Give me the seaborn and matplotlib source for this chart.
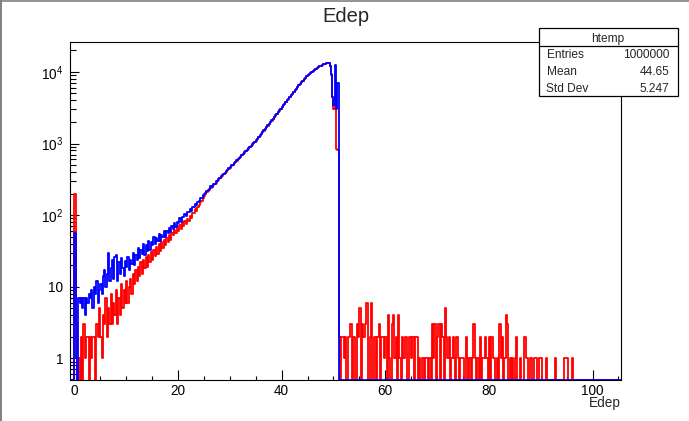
import numpy as np
import pandas as pd
import matplotlib
matplotlib.use("Agg")
import matplotlib.pyplot as plt
import seaborn as sns
from matplotlib.ticker import FixedLocator, FuncFormatter, MultipleLocator, NullFormatter
from matplotlib.patches import Rectangle
from matplotlib.lines import Line2D

# ---------------- data (counts per 0.25-wide Edep bin) ----------------
bin_width = 0.25
data_start = 0.0

blue_rise = [  # Edep 0 - 25
    56, 1, 0, 7,  6, 7, 5, 7,  4, 7, 6, 8,  7, 9, 5, 10,  8, 12, 6, 9,
    11, 8, 14, 17,  10, 15, 30, 12,  18, 24, 13, 26,  28, 12, 22, 15,  25, 18, 14, 23,
    19, 26, 17, 24,  21, 30, 20, 28,  24, 35, 25, 33,  29, 40, 28, 38,  32, 44, 33, 42,
    38, 50, 39, 48,  43, 55, 44, 53,  49, 61, 50, 60,  56, 67, 58, 70,  64, 77, 68, 80,
    78, 90, 80, 94,  93, 104, 96, 110,  110, 122, 113, 128,  132, 144, 137, 152,  160, 172, 176, 189,
]
blue_peak = [  # Edep 25 - 51
    198, 207, 216, 225,  235, 252, 250, 272,  276, 298, 300, 322,  328, 352, 358, 380,
    390, 418, 424, 452,  463, 494, 505, 538,  550, 586, 600, 638,  654, 695, 714, 756,
    784, 818, 854, 892,  931, 972, 1015, 1059,  1106, 1167, 1231, 1299,  1370, 1446, 1525, 1609,
    1698, 1791, 1890, 1994,  2103, 2219, 2341, 2470,  2606, 2749, 2900, 3060,
    3228, 3406, 3593, 3791,  3999, 4219, 4451, 4696,  4954, 5227, 5514, 5817,
    6137, 6475, 6800, 7130,  7500, 7900, 8300, 8700,  9050, 9400, 9750, 10100,
    10400, 10750, 11050, 11350,  11650, 11950, 12250, 12550,  12800, 13050, 13300, 13450,
    13300, 12300, 9000, 4500,  3500, 12500, 3000, 7000,
]
red_rise = [  # Edep 0 - 25
    200, 3, 0, 1,  0, 2, 0, 3,  1, 2, 2, 0,  2, 1, 2, 2,  0, 3, 2, 5,
    2, 1, 4, 3,  7, 2, 5, 3,  8, 3, 6, 4,  9, 3, 7, 4,  11, 5, 9, 6,
    12, 6, 10, 13,  8, 15, 11, 17,  12, 19, 14, 22,  15, 24, 18, 26,  19, 28, 22, 31,
    24, 33, 27, 36,  29, 39, 32, 42,  35, 45, 38, 48,  42, 52, 45, 57,  52, 62, 56, 67,
    60, 72, 64, 77,  70, 83, 75, 89,  84, 98, 91, 108,  108, 120, 116, 132,  140, 154, 160, 174,
]
red_peak = [  # Edep 25 - 51
    185, 200, 210, 218,  226, 236, 252, 260,  270, 282, 302, 310,  326, 340, 356, 372,
    388, 405, 424, 442,  462, 482, 505, 527,  550, 575, 600, 627,  655, 684, 714, 746,
    779, 813, 849, 887,  926, 967, 1010, 1054,  1100, 1160, 1224, 1292,  1363, 1439, 1518, 1602,
    1690, 1784, 1883, 1987,  2096, 2212, 2334, 2463,  2599, 2742, 2893, 3053,
    3221, 3399, 3586, 3784,  3992, 4212, 4444, 4689,  4947, 5220, 5507, 5810,
    6130, 6468, 6793, 7123,  7493, 7893, 8293, 8693,  9043, 9393, 9743, 10093,
    10393, 10743, 11043, 11343,  11643, 11943, 12243, 12543,  12793, 13043, 13293, 13443,
    13290, 12290, 9400, 4500,  3000, 4500, 850, 800,
]
red_tail = [  # Edep 51 - 97
    2, 0, 2, 2,  1, 2, 0, 2,  2, 3, 0, 2,  2, 0, 3, 2,  5, 0, 3, 2,
    3, 6, 6, 0,  2, 6, 0, 2,  2, 0, 2, 3,  0, 2, 2, 1,  2, 0, 4, 1,
    0, 3, 4, 1,  2, 0, 4, 1,  0, 2, 1, 2,  2, 0, 2, 2,  1, 2, 0, 2,
    2, 0, 1, 0,  1, 1, 0, 1,  1, 0, 1, 0,  3, 1, 3, 0,  2, 3, 0, 3,
    2, 0, 5, 2,  1, 2, 0, 1,  2, 1, 0, 2,  1, 0, 1, 1,  1, 0, 2, 1,
    0, 1, 0, 1,  3, 1, 0, 1,  0, 2, 0, 1,  1, 2, 1, 0,  2, 0, 2, 1,
    1, 0, 1, 0,  3, 1, 2, 0,  1, 4, 3, 0,  1, 0, 1, 0,  1, 2, 0, 0,
    1, 0, 0, 2,  2, 1, 0, 0,  1, 0, 0, 1,  1, 0, 0, 1,  1, 0, 0, 0,
    1, 0, 0, 0,  0, 0, 0, 1,  0, 0, 0, 0,  0, 0, 1, 1,  1, 0, 0, 0,
    1, 0, 0, 0,
]

title_text = "Edep"
x_label = "Edep"
stats_title = "htemp"
stats_labels = ["Entries", "Mean", "Std Dev"]
stats_values = ["1000000", "44.65", "5.247"]
x_major_ticks = [0, 20, 40, 60, 80, 100]
y_major_ticks = [1, 10, 100, 1000, 10000]

# ---------------- layout / style ----------------
W, H, DPI = 689, 421, 100
x_range = (-0.93, 105.5)
y_range = (0.506, 26200)
first_edge = -0.75

sns.set_theme(style="white")
plt.rcParams["font.family"] = ["Liberation Sans", "DejaVu Sans"]
plt.rcParams["mathtext.fontset"] = "custom"
plt.rcParams["mathtext.rm"] = "Liberation Sans"
plt.rcParams["mathtext.it"] = "Liberation Sans:italic"
plt.rcParams["mathtext.bf"] = "Liberation Sans:bold"

fig = plt.figure(figsize=(W / DPI, H / DPI), dpi=DPI)
fig.patch.set_facecolor("white")
ax = fig.add_axes([69.5 / W, 1 - 379.5 / H, (621 - 69.5) / W, (379.5 - 42) / H])

edges = np.arange(first_edge, x_range[1] + 1e-9, bin_width)
centers = edges[:-1] + bin_width / 2
offset = int(round((data_start - first_edge) / bin_width))


def full_series(counts):
    arr = np.zeros(len(centers))
    arr[offset:offset + len(counts)] = counts
    return arr


red_full = full_series(red_rise + red_peak + red_tail)
blue_full = full_series(blue_rise + blue_peak)

# ROOT draws empty bins on the frame floor
floor = y_range[0]
df = pd.DataFrame({
    "Edep": np.concatenate([centers, centers]),
    "count": np.concatenate([np.maximum(red_full, floor), np.maximum(blue_full, floor)]),
    "series": ["red"] * len(centers) + ["blue"] * len(centers),
})

edge_list = [float(e) for e in edges]
for name, color, z in [("red", "#ff0000", 3.0), ("blue", "#0000ff", 3.1)]:
    sub = df[df["series"] == name]
    sns.histplot(data=sub, x="Edep", weights="count", bins=edge_list, element="step",
                 fill=False, color=color, linewidth=1.3, ax=ax, zorder=z)

ax.set_yscale("log")
ax.set_xlim(*x_range)
ax.set_ylim(*y_range)
ax.set_xlabel("")
ax.set_ylabel("")

# ticks
ax.xaxis.set_major_locator(FixedLocator(x_major_ticks))
ax.xaxis.set_minor_locator(MultipleLocator(5))
ax.yaxis.set_major_locator(FixedLocator(y_major_ticks))
minor_y = [m * 10 ** d for d in range(-1, 5) for m in range(2, 10)]
ax.yaxis.set_minor_locator(FixedLocator(minor_y))
ax.yaxis.set_minor_formatter(NullFormatter())


def ylab(v, pos):
    e = int(round(np.log10(v)))
    if e <= 1:
        return str(int(round(v)))
    return r"$10^{%d}$" % e


ax.yaxis.set_major_formatter(FuncFormatter(ylab))
ax.tick_params(axis="both", which="both", direction="in", bottom=True, left=True,
               top=False, right=False, colors="black", labelsize=9.8, width=0.8)
ax.tick_params(axis="x", which="major", length=7.2, pad=3)
ax.tick_params(axis="x", which="minor", length=3.1)
ax.tick_params(axis="y", which="major", length=6.5, pad=4.5)
ax.tick_params(axis="y", which="minor", length=4.5)
for sp in ax.spines.values():
    sp.set_color("black")
    sp.set_linewidth(0.8)
    sp.set_visible(True)
ax.grid(False)


def fx(px):
    return px / W


def fy(py):
    return 1 - py / H


# title and axis label
fig.text(fx(346), fy(21.5), title_text, ha="center", va="baseline", fontsize=14.5)
fig.text(fx(620.5), fy(407.5), x_label, ha="right", va="baseline", fontsize=9.8)

# statistics box
bx0, bx1, by0, by1 = 538.7, 677.5, 28.3, 95.8
fig.add_artist(Rectangle((fx(bx0), fy(by1)), fx(bx1) - fx(bx0), fy(by0) - fy(by1),
                         transform=fig.transFigure, facecolor="white", edgecolor="black",
                         linewidth=0.9, zorder=10))
fig.add_artist(Line2D([fx(bx0), fx(bx1)], [fy(46.3), fy(46.3)], transform=fig.transFigure,
                      color="black", linewidth=0.9, zorder=11))
fig.text(fx((bx0 + bx1) / 2), fy(42.3), stats_title, ha="center", va="baseline",
         fontsize=8.6, zorder=12)
row_base = [58.0, 75.0, 91.7]
for lab, val, yb in zip(stats_labels, stats_values, row_base):
    fig.text(fx(546.5), fy(yb), lab, ha="left", va="baseline", fontsize=8.6, zorder=12)
    fig.text(fx(669.0), fy(yb), val, ha="right", va="baseline", fontsize=8.6, zorder=12)

# canvas border (left and top)
fig.add_artist(Line2D([fx(0.8), fx(0.8)], [0, 1], transform=fig.transFigure,
                      color="#808080", linewidth=1.4, zorder=20))
fig.add_artist(Line2D([0, 1], [fy(0.6), fy(0.6)], transform=fig.transFigure,
                      color="#808080", linewidth=1.2, zorder=20))

fig.savefig("out.png", dpi=DPI, facecolor="white")
